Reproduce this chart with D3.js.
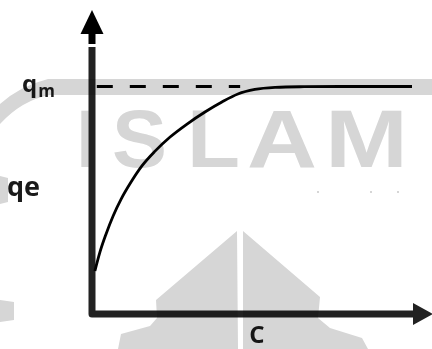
<!DOCTYPE html>
<html>
<head>
<meta charset="utf-8">
<script src="https://cdn.jsdelivr.net/npm/d3@7"></script>
<style>
  html, body { margin: 0; padding: 0; background: #fff; }
  svg { display: block; }
  .label { font-family: "Open Sans", sans-serif; font-weight: 700; fill: #1a1a1a; }
  .mark { font-family: "Liberation Sans", sans-serif; font-weight: 700; fill: #d6d6d6; }
</style>
</head>
<body>
<div id="chart"></div>
<script>
var width = 432;
var height = 349;

// isotherm curve (C in % of axis, q as fraction of qm)
var curveC = [0.9, 2.5, 4.4, 6.6, 9.1, 12.2, 15.6, 19.7, 24.4, 29.7, 35.3, 40.6, 45.6, 50.9, 57.2, 65.0, 77.5, 100];
var curveQ = [0.189, 0.273, 0.352, 0.431, 0.505, 0.580, 0.651, 0.716, 0.778, 0.835, 0.888, 0.932, 0.967, 0.987, 0.996, 0.999, 1, 1];

// dashed qm guide
var qmValue = 1;
var dashC = [1.5, 46.3];

// labels
var yLabel = 'qe';
var xLabel = 'C';
var qmMain = 'q';
var qmSub = 'm';

// watermark letters
var markLetters = ['I', 'S', 'L', 'A', 'M'];

var AXIS_COLOR = '#222';
var AXIS_WIDTH = 7;

var svg = d3.select('#chart')
    .append('svg')
    .attr('width', width)
    .attr('height', height);

var x = d3.scaleLinear()
    .domain([0, 100])
    .range([92, 412]);

var y = d3.scaleLinear()
    .domain([0, 1])
    .range([314, 86.5]);

var x0 = x(0);
var y0 = y(0);

// ---- axes ----
svg.append('path')
    .attr('d', 'M' + x0 + ',47 L' + x0 + ',' + y0 + ' L414,' + y0)
    .attr('fill', 'none')
    .attr('stroke', AXIS_COLOR)
    .attr('stroke-width', AXIS_WIDTH)
    .attr('stroke-linejoin', 'round');

// y arrow (with its short stem)
svg.append('rect')
    .attr('x', x0 - AXIS_WIDTH / 2)
    .attr('y', 33)
    .attr('width', AXIS_WIDTH)
    .attr('height', 11)
    .attr('fill', '#000');
svg.append('path')
    .attr('d', 'M' + x0 + ',10 L' + (x0 + 11.5) + ',34 L' + (x0 - 11.5) + ',34 Z')
    .attr('fill', '#000');

// x arrow
svg.append('path')
    .attr('d', 'M413,' + (y0 - 11) + ' L433,' + y0 + ' L413,' + (y0 + 11) + ' Z')
    .attr('fill', AXIS_COLOR);

// ---- dashed qm line ----
svg.append('line')
    .attr('x1', x(dashC[0]))
    .attr('x2', x(dashC[1]))
    .attr('y1', y(qmValue))
    .attr('y2', y(qmValue))
    .attr('stroke', '#000')
    .attr('stroke-width', 3)
    .attr('stroke-dasharray', '16,17');

// ---- curve ----
var pts = curveC.map(function (c, i) { return [c, curveQ[i]]; });
svg.append('path')
    .datum(pts)
    .attr('fill', 'none')
    .attr('stroke', '#000')
    .attr('stroke-width', 2.8)
    .attr('d', d3.line()
        .x(function (d) { return x(d[0]); })
        .y(function (d) { return y(d[1]); })
        .curve(d3.curveMonotoneX));

// ---- labels ----
var qm = svg.append('text')
    .attr('class', 'label')
    .attr('x', 22)
    .attr('y', 92)
    .style('font-size', '24px');
qm.append('tspan').text(qmMain);
qm.append('tspan')
    .attr('dy', 5)
    .attr('dx', 1)
    .style('font-size', '17px')
    .text(qmSub);

svg.append('text')
    .attr('class', 'label')
    .attr('x', 7)
    .attr('y', 196)
    .style('font-size', '27px')
    .text(yLabel);

svg.append('text')
    .attr('class', 'label')
    .attr('x', 257)
    .attr('y', 343)
    .attr('text-anchor', 'middle')
    .style('font-size', '24px')
    .text(xLabel);

// ---- faded watermark, multiplied on top ----
var wm = svg.append('g').style('mix-blend-mode', 'multiply');

// ring band
wm.append('path')
    .attr('d', 'M0,104 Q20,86 48,79 L432,79 L432,95 L50,95 Q22,100 0,124 Z')
    .attr('fill', '#d6d6d6');
wm.append('path')
    .attr('d', 'M0,176 L8,178 L8,202 L0,204 Z')
    .attr('fill', '#d6d6d6');
wm.append('path')
    .attr('d', 'M0,300 L14,302 L14,320 L0,322 Z')
    .attr('fill', '#d6d6d6');

// letters
var letterBox = [[78, 14], [112, 55], [187, 53], [247, 70], [325, 83]];
markLetters.forEach(function (l, i) {
    wm.append('text')
        .attr('class', 'mark')
        .attr('x', letterBox[i][0])
        .attr('y', 167)
        .attr('textLength', letterBox[i][1])
        .attr('lengthAdjust', 'spacingAndGlyphs')
        .style('font-size', '81px')
        .text(l);
});
[317, 370, 397].forEach(function (px) {
    wm.append('rect').attr('x', px).attr('y', 191).attr('width', 2).attr('height', 2).attr('fill', '#d6d6d6');
});

// mountain logo, split by a white gap
wm.append('path')
    .attr('d', 'M237,231 L156,300 L157,318 L150,326 L121,334 L118,349 L238,349 Z')
    .attr('fill', '#d6d6d6');
wm.append('path')
    .attr('d', 'M243,231 L320,297 L318,318 L330,328 L362,338 L368,349 L243,349 Z')
    .attr('fill', '#d6d6d6');
</script>
</body>
</html>
